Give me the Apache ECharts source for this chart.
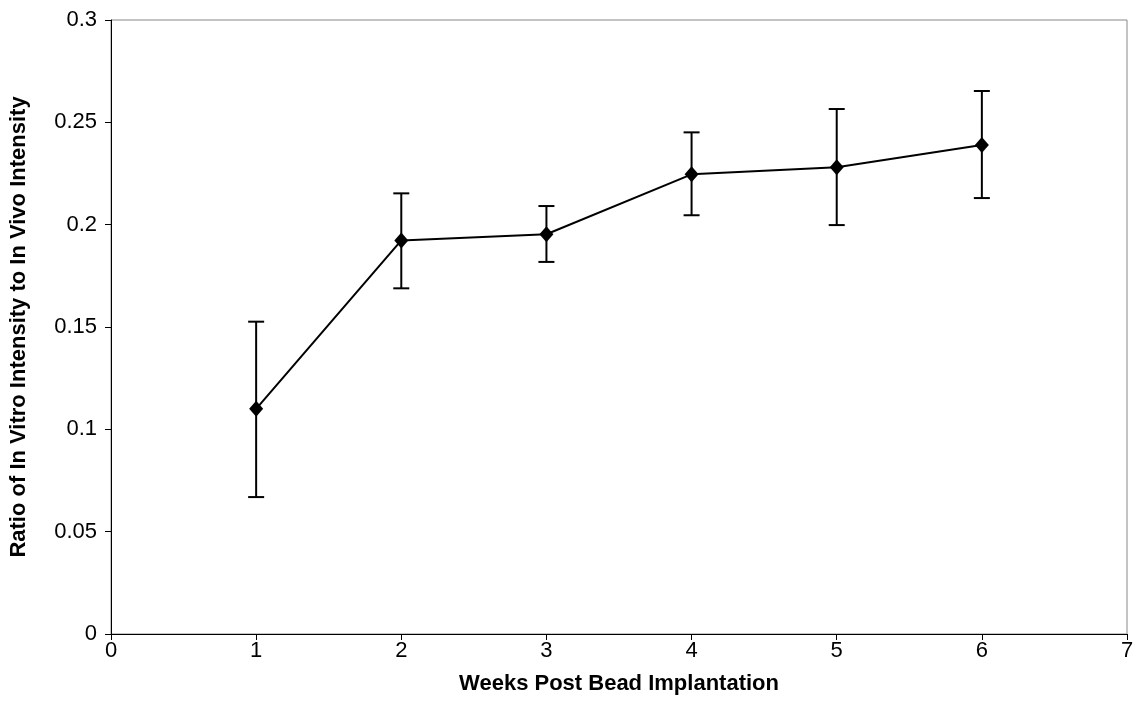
<!DOCTYPE html>
<html>
<head>
<meta charset="utf-8">
<script src="https://cdn.jsdelivr.net/npm/echarts@6/dist/echarts.min.js"></script>
<style>
html,body{margin:0;padding:0;background:#fff;}
#c{width:1138px;height:723px;}
</style>
</head>
<body>
<div id="c"></div>
<script>
const weeks = [1, 2, 3, 4, 5, 6];
const means = [0.110, 0.1923, 0.1953, 0.2246, 0.2280, 0.2389];
const upper = [0.1526, 0.2153, 0.2091, 0.2451, 0.2565, 0.2653];
const lower = [0.0669, 0.1689, 0.1818, 0.2046, 0.1998, 0.2130];

const chart = echarts.init(document.getElementById('c'), null, {renderer: 'canvas'});
const font = '"Liberation Sans", Arial, sans-serif';

const lineData = weeks.map((w, i) => [w, means[i]]);
const errData = weeks.map((w, i) => [w, lower[i], upper[i]]);

chart.setOption({
  animation: false,
  backgroundColor: '#fff',
  grid: {left: 111, right: 11, top: 20, bottom: 89, show: true, borderColor: '#888', borderWidth: 1},
  xAxis: {
    type: 'value', min: 0, max: 7, interval: 1,
    name: 'Weeks Post Bead Implantation', nameLocation: 'middle', nameGap: 39,
    nameTextStyle: {fontFamily: font, fontSize: 22, fontWeight: 'bold', color: '#000'},
    axisLine: {show: true, lineStyle: {color: '#000', width: 1}},
    axisTick: {show: true, length: 6, lineStyle: {color: '#000'}},
    axisLabel: {fontFamily: font, fontSize: 22, color: '#000', margin: 6},
    splitLine: {show: false}
  },
  yAxis: {
    type: 'value', min: 0, max: 0.3, interval: 0.05,
    name: 'Ratio of In Vitro Intensity to In Vivo Intensity', nameLocation: 'middle', nameGap: 81,
    nameTextStyle: {fontFamily: font, fontSize: 22, fontWeight: 'bold', color: '#000'},
    axisLine: {show: true, lineStyle: {color: '#000', width: 1}},
    axisTick: {show: true, length: 6, lineStyle: {color: '#000'}},
    axisLabel: {fontFamily: font, fontSize: 22, color: '#000', margin: 14,
      formatter: v => String(Math.round(v * 100) / 100)},
    splitLine: {show: false}
  },
  series: [
    {
      type: 'custom',
      data: errData,
      z: 3,
      renderItem: function (params, api) {
        const x = api.value(0);
        const lo = api.coord([x, api.value(1)]);
        const hi = api.coord([x, api.value(2)]);
        const hw = 8;
        const style = {stroke: '#000', lineWidth: 2};
        return {
          type: 'group',
          children: [
            {type: 'line', shape: {x1: lo[0], y1: lo[1], x2: hi[0], y2: hi[1]}, style: style},
            {type: 'line', shape: {x1: hi[0] - hw, y1: hi[1], x2: hi[0] + hw, y2: hi[1]}, style: style},
            {type: 'line', shape: {x1: lo[0] - hw, y1: lo[1], x2: lo[0] + hw, y2: lo[1]}, style: style}
          ]
        };
      }
    },
    {
      type: 'line',
      data: lineData,
      z: 4,
      symbol: 'diamond',
      symbolSize: [14, 16],
      itemStyle: {color: '#000'},
      lineStyle: {color: '#000', width: 2}
    }
  ]
});
</script>
</body>
</html>
